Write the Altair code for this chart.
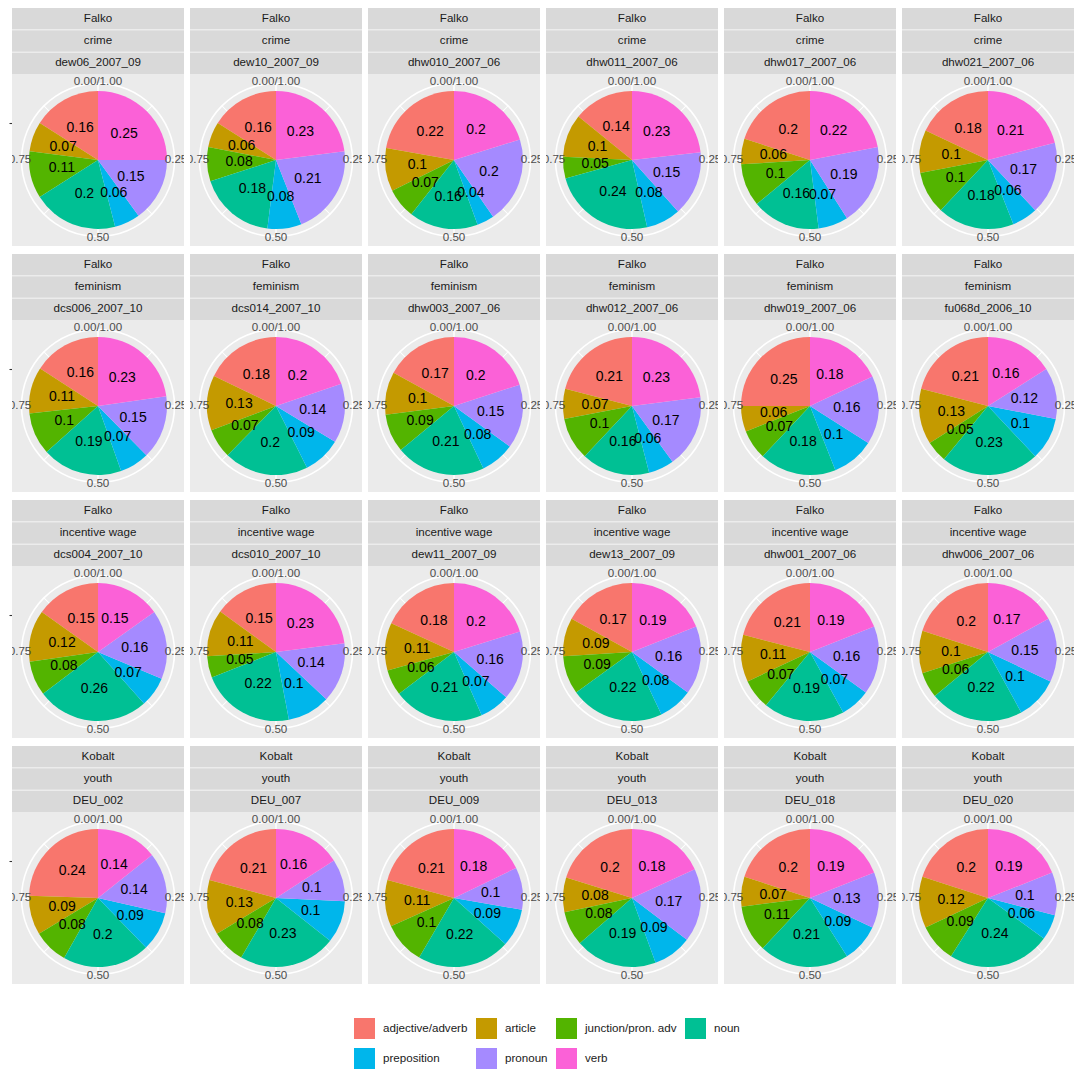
import altair as alt
import pandas as pd

# ---------------- data ----------------
corpus = ["Falko"] * 18 + ["Kobalt"] * 6
topic = ["crime"] * 6 + ["feminism"] * 6 + ["incentive wage"] * 6 + ["youth"] * 6
doc_id = [
    "dew06_2007_09", "dew10_2007_09", "dhw010_2007_06", "dhw011_2007_06", "dhw017_2007_06", "dhw021_2007_06",
    "dcs006_2007_10", "dcs014_2007_10", "dhw003_2007_06", "dhw012_2007_06", "dhw019_2007_06", "fu068d_2006_10",
    "dcs004_2007_10", "dcs010_2007_10", "dew11_2007_09", "dew13_2007_09", "dhw001_2007_06", "dhw006_2007_06",
    "DEU_002", "DEU_007", "DEU_009", "DEU_013", "DEU_018", "DEU_020",
]

categories = ["adjective/adverb", "article", "junction/pron. adv", "noun",
              "preposition", "pronoun", "verb"]
palette = ["#F8766D", "#C49A00", "#53B400", "#00C094", "#00B6EB", "#A58AFF", "#FB61D7"]
# clockwise drawing order starting at 12 o'clock
clockwise = ["verb", "pronoun", "preposition", "noun", "junction/pron. adv", "article", "adjective/adverb"]

adjective = [0.16, 0.16, 0.22, 0.14, 0.20, 0.18,
             0.16, 0.18, 0.17, 0.21, 0.25, 0.21,
             0.15, 0.15, 0.18, 0.17, 0.21, 0.20,
             0.24, 0.21, 0.21, 0.20, 0.20, 0.20]
article = [0.07, 0.06, 0.10, 0.10, 0.06, 0.10,
           0.11, 0.13, 0.10, 0.07, 0.06, 0.13,
           0.12, 0.11, 0.11, 0.09, 0.11, 0.10,
           0.09, 0.13, 0.11, 0.08, 0.07, 0.12]
junction = [0.11, 0.08, 0.07, 0.05, 0.10, 0.10,
            0.10, 0.07, 0.09, 0.10, 0.07, 0.05,
            0.08, 0.05, 0.06, 0.09, 0.07, 0.06,
            0.08, 0.08, 0.10, 0.08, 0.11, 0.09]
noun = [0.20, 0.18, 0.16, 0.24, 0.16, 0.18,
        0.19, 0.20, 0.21, 0.16, 0.18, 0.23,
        0.26, 0.22, 0.21, 0.22, 0.19, 0.22,
        0.20, 0.23, 0.22, 0.19, 0.21, 0.24]
preposition = [0.06, 0.08, 0.04, 0.08, 0.07, 0.06,
               0.07, 0.09, 0.08, 0.06, 0.10, 0.10,
               0.07, 0.10, 0.07, 0.08, 0.07, 0.10,
               0.09, 0.10, 0.09, 0.09, 0.09, 0.06]
pronoun = [0.15, 0.21, 0.20, 0.15, 0.19, 0.17,
           0.15, 0.14, 0.15, 0.17, 0.16, 0.12,
           0.16, 0.14, 0.16, 0.16, 0.16, 0.15,
           0.14, 0.10, 0.10, 0.17, 0.13, 0.10]
verb = [0.25, 0.23, 0.20, 0.23, 0.22, 0.21,
        0.23, 0.20, 0.20, 0.23, 0.18, 0.16,
        0.15, 0.23, 0.20, 0.19, 0.19, 0.17,
        0.14, 0.16, 0.18, 0.18, 0.19, 0.19]

series = [adjective, article, junction, noun, preposition, pronoun, verb]

theta_breaks = [0.0, 0.25, 0.5, 0.75]
theta_labels = ["0.00/1.00", "0.25", "0.50", "0.75"]
minor_breaks = [0.125, 0.375, 0.625, 0.875]

# ---------------- layout constants ----------------
PANEL = 172
COL_GAP = 6
ROW_GAP = 8
STRIP_H = 66
TOTAL_W = 6 * PANEL + 5 * COL_GAP
PIE_R = 69
LABEL_R = 37          # radius of the single radial break (slice labels sit on it)
RING_R = 76.5
TICKLAB_R = 78
AXIS_EXT = 4

FONT = "Liberation Sans"

color_scale = alt.Scale(domain=categories, range=palette)
tscale = alt.Scale(domain=[0, 1])

legend = alt.Legend(
    title=None, orient="none", legendX=342, legendY=1010,
    direction="horizontal", columns=4, symbolType="square", symbolSize=441,
    symbolStrokeWidth=0, symbolOpacity=1, labelFontSize=11.6, labelColor="#1A1A1A",
    labelFont=FONT, labelOffset=8, columnPadding=8, rowPadding=9, padding=0,
)

# gridline tables (theta breaks)
spoke_rows = []
for b in theta_breaks:
    spoke_rows.append({"lo": b - 0.0016, "hi": b + 0.0016})
for b in minor_breaks:
    spoke_rows.append({"lo": b - 0.0009, "hi": b + 0.0009})
spoke_df = pd.DataFrame(spoke_rows)
ring_df = pd.DataFrame({"lo": [0.0], "hi": [1.0]})
tick_df = pd.DataFrame({"brk": theta_breaks, "lab": theta_labels})
rbreak_df = pd.DataFrame({"r": [LABEL_R]})


def pie_chart(i, with_axis):
    d = pd.DataFrame({
        "pos": categories,
        "share": [s[i] for s in series],
        "ord": [clockwise.index(c) for c in categories],
    })
    base = alt.Chart(d)
    theta = alt.Theta("share:Q", stack="normalize", scale=tscale)
    # panel background (rect without position spans the whole view)
    bg = alt.Chart(ring_df).mark_rect(color="#EBEBEB").encode(color=alt.value("#EBEBEB"))
    arcs = base.mark_arc(radius=PIE_R).encode(
        theta=theta,
        color=alt.Color("pos:N", scale=color_scale, legend=legend),
        order=alt.Order("ord:Q", sort="ascending"),
    )
    labels = base.mark_text(radius=LABEL_R, fontSize=14, color="black", font=FONT).encode(
        theta=theta,
        detail="pos:N",
        order=alt.Order("ord:Q", sort="ascending"),
        text=alt.Text("share:Q", format=".2~f"),
    )
    spokes = alt.Chart(spoke_df).mark_arc(radius=RING_R, radius2=PIE_R - 2, color="white").encode(
        theta=alt.Theta("lo:Q", scale=tscale), theta2="hi:Q"
    )
    ring = alt.Chart(ring_df).mark_arc(radius=RING_R + 0.8, radius2=RING_R - 0.8, color="white").encode(
        theta=alt.Theta("lo:Q", scale=tscale), theta2="hi:Q"
    )
    tlabels = alt.Chart(tick_df).mark_text(
        radius=TICKLAB_R, clip=True, fontSize=11.6, color="#4D4D4D", font=FONT
    ).encode(theta=alt.Theta("brk:Q", scale=tscale), text="lab:N")
    layers = [bg, spokes, ring, arcs, labels, tlabels]
    if with_axis:
        raxis = alt.Chart(rbreak_df).mark_point(opacity=0).encode(
            y=alt.Y("r:Q", scale=alt.Scale(domain=[-PANEL / 2, PANEL / 2]),
                    axis=alt.Axis(values=[LABEL_R], labels=False, domain=False, grid=False,
                                  tickSize=3, tickColor="#333333", tickWidth=1.1,
                                  title=None, minExtent=AXIS_EXT, maxExtent=AXIS_EXT))
        )
        layers.append(raxis)
    return alt.layer(*layers).properties(width=PANEL, height=PANEL)


def strip_chart(r):
    rows = []
    ids = doc_id[r * 6:(r + 1) * 6]
    for j in range(6):
        i = r * 6 + j
        for k, t in enumerate([corpus[i], topic[i], doc_id[i]]):
            rows.append({"doc": doc_id[i], "line": k, "txt": t})
    d = pd.DataFrame(rows)
    x = alt.X("doc:N", sort=ids, axis=None,
              scale=alt.Scale(paddingInner=COL_GAP / (PANEL + COL_GAP), paddingOuter=0))
    y = alt.Y("line:O", scale=alt.Scale(paddingInner=0.03, paddingOuter=0),
              axis=alt.Axis(ticks=False, labels=False, domain=False, grid=False, title=None,
                            minExtent=AXIS_EXT, maxExtent=AXIS_EXT))
    rects = alt.Chart(d).mark_rect(color="#D9D9D9").encode(x=x, y=y)
    txt = alt.Chart(d).mark_text(fontSize=11.6, color="#1A1A1A", font=FONT).encode(
        x=x, y=y, text="txt:N"
    )
    return alt.layer(rects, txt).properties(width=TOTAL_W, height=STRIP_H)


row_blocks = []
for r in range(4):
    pies = alt.hconcat(*[pie_chart(r * 6 + j, j == 0) for j in range(6)], spacing=COL_GAP)
    row_blocks.append(alt.vconcat(strip_chart(r), pies, spacing=0))

chart = (
    alt.vconcat(*row_blocks, spacing=ROW_GAP)
    .resolve_scale(color="shared")
    .properties(padding=0)
    .configure(font=FONT)
    .configure_view(strokeWidth=0)
)

chart.save("out.html", embed_options={"renderer": "svg", "actions": False})
